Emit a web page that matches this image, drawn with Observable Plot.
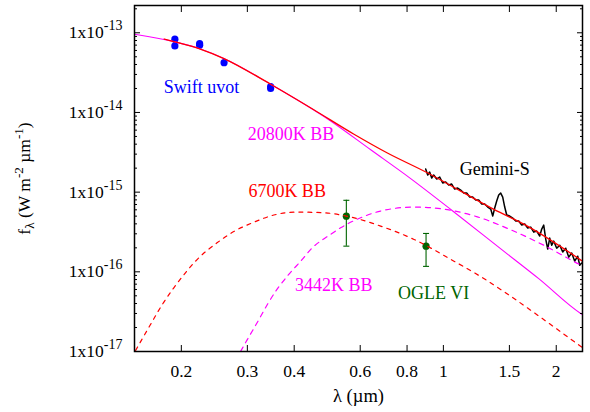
<!DOCTYPE html>
<html><head><meta charset="utf-8">
<script src="https://cdn.jsdelivr.net/npm/d3@7"></script>
<script src="https://cdn.jsdelivr.net/npm/@observablehq/plot@0.6"></script>
<style>
body{margin:0;background:#fff}
#chart svg{display:block}
</style>
</head><body><div id="chart"></div>
<script>
// ---- data ----
const xTicks = [0.2, 0.3, 0.4, 0.6, 0.8, 1, 1.5, 2];
const yMajor = [1e-17, 1e-16, 1e-15, 1e-14, 1e-13];
const yMinor = [];
for (const e of [-17, -16, -15, -14, -13]) for (const m of [2,3,4,5,6,7,8,9]) { const v = m * Math.pow(10, e); if (v < 2.2e-13) yMinor.push(v); }

const swiftLambda = [0.1922, 0.1922, 0.2238, 0.2238, 0.2600, 0.3461, 0.3461];
const swiftFlux   = [8.31e-14, 6.84e-14, 7.31e-14, 6.95e-14, 4.22e-14, 2.11e-14, 2.0e-14];

const ogleLambda = [0.551, 0.899];
const ogleFlux   = [5.0e-16, 2.1e-16];
const ogleErr    = [2.9e-16, 0.93e-16];

const bb20800Lambda = [0.15, 0.1911, 0.2238, 0.2598, 0.3461, 0.5004, 0.64, 0.818, 1.057, 1.437, 1.796, 2.324, 2.35];
const bb20800Flux   = [9.6e-14, 7.74e-14, 6.3e-14, 4.75e-14, 2.26e-14, 7.82e-15, 3.4e-15, 1.48e-15, 5.85e-16, 1.87e-16, 8.2e-17, 3.0e-17, 2.9e-17];

const totalLambda = [0.18, 0.1911, 0.2238, 0.2598, 0.3461, 0.45, 0.576, 0.709, 0.906, 1.112, 1.364, 1.675, 2.35];
const totalFlux   = [8.35e-14, 7.74e-14, 6.3e-14, 4.75e-14, 2.26e-14, 1.09e-14, 5.37e-15, 3.1e-15, 1.75e-15, 1.03e-15, 6.08e-16, 3.75e-16, 1.36e-16];

const bb6700Lambda = [0.151, 0.1655, 0.178, 0.191, 0.225, 0.249, 0.276, 0.3124, 0.353, 0.4077, 0.48, 0.551, 0.68, 0.835, 1.067, 1.258, 1.482, 1.818, 2.254, 2.35];
const bb6700Flux   = [1.03e-17, 2.18e-17, 3.9e-17, 6.3e-17, 1.57e-16, 2.31e-16, 3.2e-16, 4.2e-16, 5.16e-16, 5.62e-16, 5.51e-16, 5.01e-16, 3.75e-16, 2.55e-16, 1.36e-16, 8.7e-17, 5.27e-17, 2.68e-17, 1.29e-17, 1.12e-17];

const bb3442Lambda = [0.2877, 0.2999, 0.3221, 0.3392, 0.3606, 0.3835, 0.4162, 0.447, 0.5004, 0.532, 0.6017, 0.68, 0.835, 1.025, 1.232, 1.512, 1.855, 2.324, 2.35];
const bb3442Flux   = [1.0e-17, 1.41e-17, 2.52e-17, 3.89e-17, 6.1e-17, 8.83e-17, 1.36e-16, 2.0e-16, 2.95e-16, 3.57e-16, 4.77e-16, 5.79e-16, 6.5e-16, 6.02e-16, 4.9e-16, 3.37e-16, 2.15e-16, 1.22e-16, 1.19e-16];

const geminiLambda = [0.8970,0.9081,0.9193,0.9306,0.9422,0.9597,0.9775,0.9957,1.0142,1.0331,
  1.0523,1.0719,1.0918,1.1121,1.1329,1.1539,1.1754,1.1973,1.2196,1.2423,
  1.2654,1.2889,1.3129,1.3374,1.3539,1.3706,1.3875,1.4047,1.4220,1.4396,
  1.4574,1.4754,1.5029,1.5309,1.5594,1.5884,1.6179,1.6480,1.6787,1.7099,
  1.7417,1.7741,1.8071,1.8294,1.8520,1.8749,1.8980,1.9215,1.9453,1.9693,
  2.0059,2.0432,2.0812,2.1199,2.1593,2.1995,2.2404,2.2820,2.3103,2.3388];
const geminiFlux = [1.951e-15,1.640e-15,1.789e-15,1.504e-15,1.640e-15,1.461e-15,1.548e-15,1.301e-15,1.339e-15,1.228e-15,
  1.264e-15,1.094e-15,1.126e-15,1.063e-15,9.74e-16,9.74e-16,8.68e-16,8.68e-16,7.96e-16,7.96e-16,
  7.09e-16,7.09e-16,6.50e-16,6.13e-16,5.01e-16,6.31e-16,7.73e-16,9.20e-16,9.74e-16,8.68e-16,
  6.50e-16,5.16e-16,5.01e-16,4.73e-16,4.34e-16,4.34e-16,3.86e-16,3.98e-16,3.54e-16,3.64e-16,
  3.15e-16,3.25e-16,2.81e-16,3.44e-16,3.86e-16,2.58e-16,1.93e-16,2.65e-16,2.16e-16,2.43e-16,
  1.98e-16,2.16e-16,1.77e-16,1.98e-16,1.53e-16,1.72e-16,1.36e-16,1.57e-16,1.21e-16,1.29e-16];

const labelText  = ["Swift uvot", "20800K BB", "6700K BB", "3442K BB", "OGLE VI", "Gemini-S"];
const labelX     = [0.2265, 0.3925, 0.383, 0.5097, 0.942, 1.37];
const labelY     = [2.09e-14, 5.37e-15, 1.03e-15, 6.8e-17, 5.4e-17, 1.95e-15];
const labelColor = ["#0000ff", "#ff00ff", "#ff0000", "#ff00ff", "#006400", "#000000"];

// ---- tables ----
const zip = (xs, ys) => xs.map((l, i) => ({l, f: ys[i]}));
const swift = zip(swiftLambda, swiftFlux);
const ogle = ogleLambda.map((l, i) => ({l, f: ogleFlux[i], lo: ogleFlux[i] - ogleErr[i], hi: ogleFlux[i] + ogleErr[i]}));
const caps = ogle.flatMap(d => [{l: d.l, f: d.lo}, {l: d.l, f: d.hi}]);
const labels = labelText.map((t, i) => ({t, x: labelX[i], y: labelY[i], c: labelColor[i]}));

const green = "#006400";
const serif = "Liberation Serif, DejaVu Serif, serif";
const capSymbol = {draw(ctx, size) { const w = Math.sqrt(size / Math.PI); ctx.moveTo(-w, 0); ctx.lineTo(w, 0); }};
const blank = () => "";

const plot = Plot.plot({
  width: 590, height: 412,
  marginLeft: 134, marginRight: 8, marginTop: 5, marginBottom: 61,
  style: {fontSize: "17.5px", background: "white", color: "black"},
  x: {type: "log", domain: [0.15, 2.35]},
  y: {type: "log", domain: [1e-17, 2.2e-13]},
  marks: [
    Plot.ruleX(ogle, {x: "l", y1: "lo", y2: "hi", stroke: green, strokeWidth: 1.1}),
    Plot.dot(caps, {x: "l", y: "f", symbol: capSymbol, r: 3, stroke: green, strokeWidth: 1.1, fill: "none"}),
    Plot.dot(ogle, {x: "l", y: "f", r: 3.6, fill: green, stroke: "none"}),
    Plot.dot(swift, {x: "l", y: "f", r: 3.6, fill: "#0000ff", stroke: "none"}),
    Plot.line(zip(geminiLambda, geminiFlux), {x: "l", y: "f", stroke: "black", strokeWidth: 1.5, clip: true}),
    Plot.line(zip(bb20800Lambda, bb20800Flux), {x: "l", y: "f", stroke: "#ff00ff", strokeWidth: 1.1, curve: "monotone-x", clip: true}),
    Plot.line(zip(totalLambda, totalFlux), {x: "l", y: "f", stroke: "#ff0000", strokeWidth: 1.3, curve: "monotone-x", clip: true}),
    Plot.line(zip(bb6700Lambda, bb6700Flux), {x: "l", y: "f", stroke: "#ff0000", strokeWidth: 1.2, strokeDasharray: "4,5", curve: "monotone-x", clip: true}),
    Plot.line(zip(bb3442Lambda, bb3442Flux), {x: "l", y: "f", stroke: "#ff00ff", strokeWidth: 1.2, strokeDasharray: "5,5", curve: "monotone-x", clip: true}),
    Plot.text(labels, {x: "x", y: "y", text: "t", fill: "c", fontSize: 18}),
    Plot.frame({stroke: "black", strokeWidth: 1.5}),
    Plot.axisX({ticks: xTicks, tickSize: -6, tickPadding: 19, tickFormat: d => String(d), label: "λ (µm)", labelAnchor: "center", labelOffset: 50, labelArrow: false, fontSize: 17.5}),
    Plot.axisX({anchor: "top", ticks: xTicks, tickSize: -6, tickFormat: blank, label: null}),
    Plot.axisY({ticks: yMajor, tickSize: -6, tickPadding: 18, tickFormat: d => "1x10^" + Math.round(Math.log10(d)), label: "fλ (W m-2 µm-1)", labelAnchor: "center", labelOffset: 117, labelArrow: false, fontSize: 17.5}),
    Plot.axisY({ticks: yMinor, tickSize: -3, tickFormat: blank, label: null}),
    Plot.axisY({anchor: "right", ticks: yMajor, tickSize: -6, tickFormat: blank, label: null}),
    Plot.axisY({anchor: "right", ticks: yMinor, tickSize: -3, tickFormat: blank, label: null})
  ]
});

// rich text: superscripts / subscripts
const root = plot.tagName.toLowerCase() === "svg" ? plot : plot.querySelector("svg");
const svg = d3.select(root);
svg.selectAll('g[aria-label="y-axis tick label"] text').each(function() {
  const s = this.textContent;
  if (!s.includes("^")) return;
  const [base, exp] = s.split("^");
  const t = d3.select(this);
  t.text(base);
  t.append("tspan").attr("dy", -8).attr("font-size", "0.8em").text(exp);
});
svg.selectAll('g[aria-label="y-axis label"] text').each(function() {
  const t = d3.select(this);
  t.text("");
  const parts = [["f", 0, 1], ["λ", 4, 0.75], [" (W m", -4, 1], ["-2", -7, 0.75], [" µm", 7, 1], ["-1", -7, 0.75], [")", 7, 1]];
  for (const [txt, dy, fs] of parts) t.append("tspan").attr("dy", dy).attr("font-size", fs + "em").text(txt);
});
svg.selectAll('g[aria-label="x-axis label"] text').attr("font-size", 18.5);
svg.selectAll("text").attr("font-family", serif).style("font-family", serif);

document.getElementById("chart").appendChild(plot);
</script>
</body></html>
